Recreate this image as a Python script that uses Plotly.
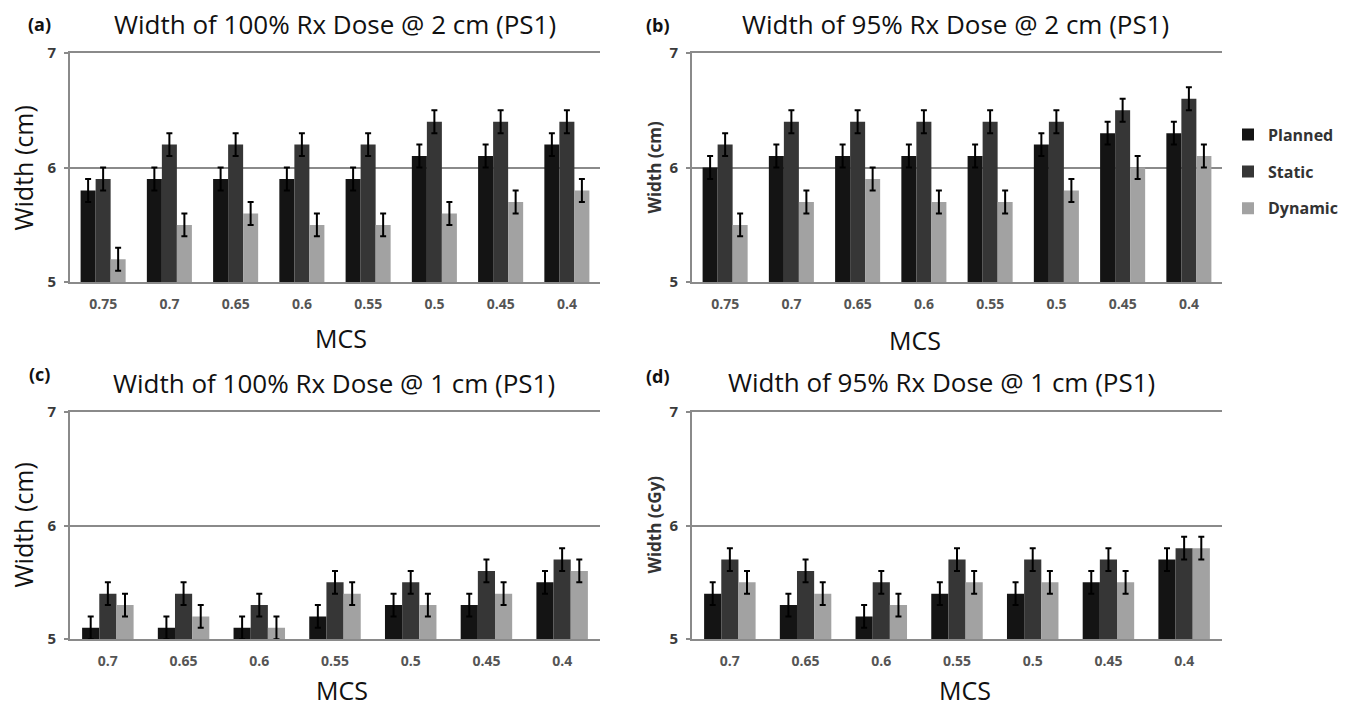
import plotly.graph_objects as go

# ---------------- data ----------------
mcs_2cm = ["0.75", "0.7", "0.65", "0.6", "0.55", "0.5", "0.45", "0.4"]
mcs_1cm = ["0.7", "0.65", "0.6", "0.55", "0.5", "0.45", "0.4"]
series_names = ["Planned", "Static", "Dynamic"]

# (a) Width of 100% Rx Dose @ 2 cm
a_planned = [5.8, 5.9, 5.9, 5.9, 5.9, 6.1, 6.1, 6.2]
a_static = [5.9, 6.2, 6.2, 6.2, 6.2, 6.4, 6.4, 6.4]
a_dynamic = [5.2, 5.5, 5.6, 5.5, 5.5, 5.6, 5.7, 5.8]

# (b) Width of 95% Rx Dose @ 2 cm
b_planned = [6.0, 6.1, 6.1, 6.1, 6.1, 6.2, 6.3, 6.3]
b_static = [6.2, 6.4, 6.4, 6.4, 6.4, 6.4, 6.5, 6.6]
b_dynamic = [5.5, 5.7, 5.9, 5.7, 5.7, 5.8, 6.0, 6.1]

# (c) Width of 100% Rx Dose @ 1 cm
c_planned = [5.1, 5.1, 5.1, 5.2, 5.3, 5.3, 5.5]
c_static = [5.4, 5.4, 5.3, 5.5, 5.5, 5.6, 5.7]
c_dynamic = [5.3, 5.2, 5.1, 5.4, 5.3, 5.4, 5.6]

# (d) Width of 95% Rx Dose @ 1 cm
d_planned = [5.4, 5.3, 5.2, 5.4, 5.4, 5.5, 5.7]
d_static = [5.7, 5.6, 5.5, 5.7, 5.7, 5.7, 5.8]
d_dynamic = [5.5, 5.4, 5.3, 5.5, 5.5, 5.5, 5.8]

error_2cm = [0.1] * 8
error_1cm = [0.1] * 7

y_ticks = [5, 6, 7]

# ---------------- style ----------------
W, H = 1355, 708
# measured: the paper area renders from y=9 to y=699 in the screenshot
PAPER_TOP, PAPER_H = 9, 690
colors = {"Planned": "#141414", "Static": "#363636", "Dynamic": "#a2a2a2"}
FONT = "Open Sans"
GRID = "#8a8a8a"


def px_x(x):
    return x / W


def px_y(y):
    return 1 - (y - PAPER_TOP) / PAPER_H


panels = [
    dict(ax="", cats=mcs_2cm, vals=[a_planned, a_static, a_dynamic], err=error_2cm, legend=True),
    dict(ax="2", cats=mcs_2cm, vals=[b_planned, b_static, b_dynamic], err=error_2cm, legend=False),
    dict(ax="3", cats=mcs_1cm, vals=[c_planned, c_static, c_dynamic], err=error_1cm, legend=False),
    dict(ax="4", cats=mcs_1cm, vals=[d_planned, d_static, d_dynamic], err=error_1cm, legend=False),
]

fig = go.Figure()
for p in panels:
    for name, vals in zip(series_names, p["vals"]):
        fig.add_trace(go.Bar(
            x=p["cats"], y=vals, name=name,
            marker=dict(color=colors[name], line=dict(width=0)),
            error_y=dict(type="data", array=p["err"], visible=True,
                         color="#000000", thickness=2, width=3),
            xaxis="x" + p["ax"], yaxis="y" + p["ax"],
            showlegend=p["legend"], legendgroup=name,
        ))

xdom_left = [px_x(70), px_x(600)]
xdom_right = [px_x(692), px_x(1222)]
ydom_top = [px_y(281), px_y(51)]
ydom_bot = [px_y(639), px_y(411)]

def xaxis(domain, anchor):
    return dict(domain=domain, anchor=anchor, type="category",
                showline=True, linecolor=GRID, linewidth=2, mirror=True,
                ticks="", showgrid=False, zeroline=False,
                tickfont=dict(family=FONT, size=14, color="#555555", weight="bold"),
                ticklabelstandoff=8)

def yaxis(domain, anchor):
    return dict(domain=domain, anchor=anchor, range=[5, 7], tickvals=y_ticks,
                showline=True, linecolor=GRID, linewidth=2,
                ticks="outside", ticklen=4, tickcolor=GRID, tickwidth=2,
                showgrid=True, gridcolor=GRID, gridwidth=2, zeroline=False,
                tickfont=dict(family=FONT, size=15, color="#3a3a3a", weight="bold"),
                ticklabelstandoff=5)

annotations = []
def ann(text, x, y, size, bold=False, angle=0, color="#111111"):
    annotations.append(dict(text=text, x=px_x(x), y=px_y(y), xref="paper", yref="paper",
                            showarrow=False, xanchor="center", yanchor="middle",
                            textangle=angle,
                            font=dict(family=FONT, size=size, color=color,
                                      weight="bold" if bold else "normal")))

TS = 26
# titles
ann("Width of 100% Rx Dose @ 2 cm (PS1)", 335, 22, TS)
ann("Width of 95% Rx Dose @ 2 cm (PS1)", 955, 22, TS)
ann("Width of 100% Rx Dose @ 1 cm (PS1)", 334, 382, TS)
ann("Width of 95% Rx Dose @ 1 cm (PS1)", 941, 381, TS)
# panel letters
ann("(a)", 39, 22, 18, bold=True)
ann("(b)", 658, 23, 18, bold=True)
ann("(c)", 39, 373, 18, bold=True)
ann("(d)", 658, 375, 18, bold=True)
# x titles
ann("MCS", 341, 337, 25)
ann("MCS", 915, 339, 25)
ann("MCS", 342, 690, 25)
ann("MCS", 965, 690, 25)
# y titles
ann("Width (cm)", 23, 167, 25, angle=-90)
ann("Width (cm)", 655, 166, 17, bold=True, angle=-90, color="#333333")
ann("Width (cm)", 23, 525, 25, angle=-90)
ann("Width (cGy)", 655, 524, 17, bold=True, angle=-90, color="#333333")

fig.update_layout(
    width=W, height=H, autosize=False,
    margin=dict(l=0, r=0, t=0, b=0),
    paper_bgcolor="white", plot_bgcolor="white",
    barmode="group", bargap=0.32, bargroupgap=0,
    font=dict(family=FONT, color="#111111"),
    xaxis=xaxis(xdom_left, "y"), yaxis=yaxis(ydom_top, "x"),
    xaxis2=xaxis(xdom_right, "y2"), yaxis2=yaxis(ydom_top, "x2"),
    xaxis3=xaxis(xdom_left, "y3"), yaxis3=yaxis(ydom_bot, "x3"),
    xaxis4=xaxis(xdom_right, "y4"), yaxis4=yaxis(ydom_bot, "x4"),
    legend=dict(x=px_x(1228), y=px_y(116), xanchor="left", yanchor="top",
                bgcolor="rgba(0,0,0,0)", tracegroupgap=13,
                font=dict(family=FONT, size=16, color="#333333", weight="bold")),
    annotations=annotations,
)

fig.write_html("out.html")
